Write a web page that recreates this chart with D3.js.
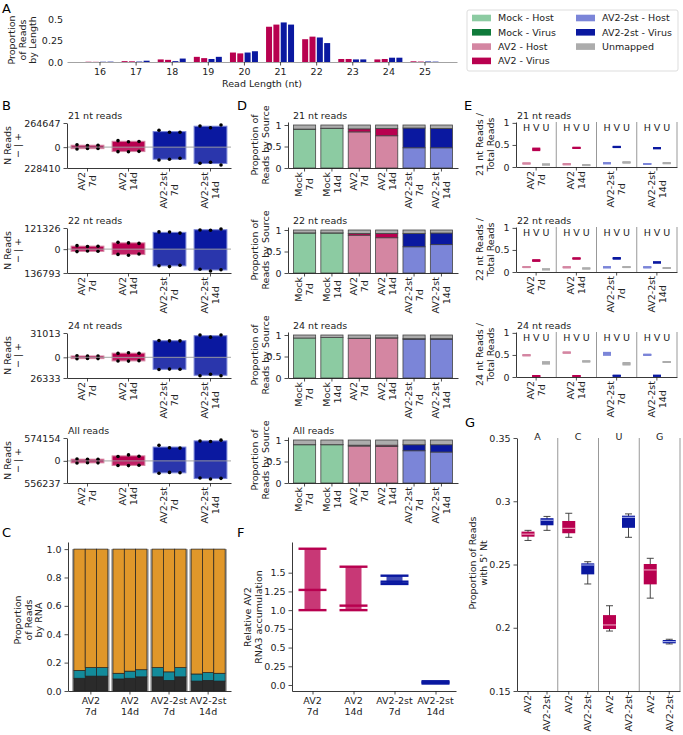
<!DOCTYPE html>
<html>
<head>
<meta charset="utf-8">
<title>AV2 small RNA reads</title>
<style>
  body { margin: 0; background: #fff; }
  svg text { font-family: "DejaVu Sans", sans-serif; fill: #222; }
  .tick text, .lbl { font-size: 9.5px; }
  .panel { font-size: 13px; fill: #000; }
</style>
</head>
<body>
<svg id="fig" width="683" height="735"></svg>
<script src="https://cdn.jsdelivr.net/npm/d3@7"></script>
<script>
// ---- data ----
var lengths = [16, 17, 18, 19, 20, 21, 22, 23, 24, 25];
var lengthSamples = ['AV2 7d', 'AV2 14d', 'AV2-2st 7d', 'AV2-2st 14d'];
var lenAV2_7d    = [0.003, 0.010, 0.030, 0.060, 0.110, 0.410, 0.265, 0.035, 0.030, 0.008];
var lenAV2_14d   = [0.002, 0.008, 0.025, 0.045, 0.100, 0.435, 0.295, 0.035, 0.035, 0.005];
var lenAV2st_7d  = [0.003, 0.005, 0.010, 0.035, 0.110, 0.460, 0.285, 0.030, 0.050, 0.006];
var lenAV2st_14d = [0.004, 0.015, 0.040, 0.060, 0.125, 0.435, 0.220, 0.030, 0.050, 0.004];

var legendLabels = ['Mock - Host', 'Mock - Virus', 'AV2 - Host', 'AV2 - Virus',
                    'AV2-2st - Host', 'AV2-2st - Virus', 'Unmapped'];

var readClasses = ['21 nt reads', '22 nt reads', '24 nt reads', 'All reads'];
var virusSamples = ['AV2\n7d', 'AV2\n14d', 'AV2-2st\n7d', 'AV2-2st\n14d'];

// B: N reads, + strand and - strand, three replicates
var nReadsMax = [264647, 121326, 31013, 574154];
var nReadsMin = [228410, 136793, 26333, 556237];
var plusReads = [
  [[25000, 18000, 20000], [71000, 60000, 62000], [185000, 163000, 163000], [232000, 213000, 243000]],
  [[20000, 15000, 17000], [39000, 36000, 33000], [99000, 98000, 92000], [110000, 108000, 116000]],
  [[2000, 1500, 1700], [5000, 5800, 5200], [21500, 21000, 21000], [28400, 25700, 28400]],
  [[45000, 40000, 42000], [110000, 150000, 115000], [390000, 330000, 320000], [500000, 485000, 520000]]
];
var minusReads = [
  [[20000, 14000, 15000], [49000, 50000, 46000], [141000, 133000, 122000], [177000, 166000, 195000]],
  [[14000, 11000, 12000], [30000, 35000, 28000], [95000, 100000, 92000], [115000, 125000, 118000]],
  [[1800, 1500, 1600], [4600, 4800, 4200], [15500, 15000, 15200], [23500, 21500, 23500]],
  [[55000, 45000, 50000], [115000, 119000, 110000], [311000, 290000, 300000], [430000, 455000, 440000]]
];

// D: proportion of reads by source
var sourceSamples = ['Mock\n7d', 'Mock\n14d', 'AV2\n7d', 'AV2\n14d', 'AV2-2st\n7d', 'AV2-2st\n14d'];
var hostFrac = [
  [0.90, 0.92, 0.84, 0.75, 0.47, 0.47],
  [0.93, 0.93, 0.88, 0.82, 0.61, 0.66],
  [0.93, 0.94, 0.92, 0.93, 0.90, 0.90],
  [0.89, 0.89, 0.86, 0.85, 0.75, 0.72]
];
var virusFrac = [
  [0.005, 0.005, 0.07, 0.17, 0.46, 0.45],
  [0.003, 0.003, 0.04, 0.10, 0.31, 0.27],
  [0.0, 0.0, 0.005, 0.005, 0.015, 0.015],
  [0.002, 0.002, 0.02, 0.03, 0.14, 0.17]
];

// E: length class reads / total reads, per replicate
var hvuKeys = ['H', 'V', 'U'];
var eHost = [
  [[0.08, 0.08, 0.08], [0.06, 0.06, 0.07], [0.08, 0.085, 0.09], [0.07, 0.07, 0.07]],
  [[0.11, 0.11, 0.11], [0.10, 0.11, 0.11], [0.10, 0.11, 0.11], [0.10, 0.11, 0.11]],
  [[0.49, 0.49, 0.50], [0.55, 0.55, 0.56], [0.50, 0.53, 0.55], [0.50, 0.50, 0.51]]
];
var eVirus = [
  [[0.38, 0.40, 0.42], [0.43, 0.43, 0.44], [0.45, 0.45, 0.46], [0.42, 0.43, 0.43]],
  [[0.25, 0.26, 0.27], [0.30, 0.31, 0.31], [0.30, 0.31, 0.32], [0.21, 0.22, 0.22]],
  [[0.015, 0.02, 0.025], [0.02, 0.02, 0.025], [0.025, 0.03, 0.03], [0.025, 0.03, 0.03]]
];
var eUnmapped = [
  [[0.055, 0.055, 0.06], [0.04, 0.045, 0.045], [0.10, 0.10, 0.11], [0.085, 0.085, 0.09]],
  [[0.06, 0.06, 0.06], [0.08, 0.08, 0.08], [0.11, 0.11, 0.11], [0.09, 0.09, 0.09]],
  [[0.30, 0.32, 0.34], [0.35, 0.35, 0.36], [0.28, 0.30, 0.32], [0.34, 0.34, 0.34]]
];

// C: proportion of reads by RNA, three replicates per sample
var rnaDark = [[0.09, 0.105, 0.105], [0.085, 0.09, 0.10], [0.10, 0.075, 0.10], [0.07, 0.075, 0.07]];
var rnaTeal = [[0.055, 0.06, 0.06], [0.04, 0.05, 0.05], [0.065, 0.06, 0.065], [0.05, 0.055, 0.055]];

// F: relative AV2 RNA3 accumulation
var rna3Values = [[1.0, 1.27, 1.82], [1.0, 1.06, 1.58], [1.35, 1.38, 1.46], [0.02, 0.035, 0.05]];

// G: 5' nucleotide, box stats [min, q1, median, q3, max]
var nucleotides = ['A', 'C', 'U', 'G'];
var boxSamples = ['AV2', 'AV2-2st'];
var boxAV2 = [
  [0.269, 0.272, 0.274, 0.276, 0.277],
  [0.2715, 0.2747, 0.2786, 0.2844, 0.2905],
  [0.1974, 0.199, 0.2022, 0.210, 0.2174],
  [0.2234, 0.2343, 0.2457, 0.2504, 0.2549]
];
var boxAV2st = [
  [0.277, 0.281, 0.285, 0.2866, 0.288],
  [0.2346, 0.2422, 0.2496, 0.2509, 0.2522],
  [0.2715, 0.279, 0.2873, 0.2886, 0.290],
  [0.1872, 0.1877, 0.189, 0.1903, 0.1909]
];

// ---- colours ----
var col = {
  mockHost: '#8ccba2', mockVirus: '#0f7a3a',
  av2Host: '#d486a2', av2Virus: '#b8004f',
  stHost: '#7b85d8', stVirus: '#0a18a0',
  unmapped: '#acacac'
};
var legendColors = [col.mockHost, col.mockVirus, col.av2Host, col.av2Virus, col.stHost, col.stVirus, col.unmapped];
var rnaColors = { dark: '#2b2b2b', teal: '#138b9b', orange: '#e0972a' };

var svg = d3.select('#fig');

function styleAxis(g, domainColor) {
  g.attr('font-size', null).attr('font-family', null);
  g.selectAll('.domain').attr('stroke', domainColor || '#222').attr('stroke-width', 0.9);
  g.selectAll('.tick line').attr('stroke', '#222').attr('stroke-width', 0.8);
  return g;
}

// rotated (bottom-to-top) multi line tick label, its end touching y
function rotLabel(x, y, text) {
  var lines = text.split('\n');
  var t = svg.append('g').attr('transform', 'translate(' + x + ',' + y + ') rotate(-90)');
  var texts = t.selectAll('text').data(lines).enter().append('text')
    .attr('class', 'lbl')
    .attr('y', function(d, i) { return (i - (lines.length - 1) / 2) * 11; })
    .attr('dy', '0.35em')
    .text(function(d) { return d; });
  var maxLen = d3.max(texts.nodes(), function(n) { return n.getComputedTextLength(); });
  texts.attr('text-anchor', 'middle').attr('x', -maxLen / 2);
}

// rotated axis title, first line at x0, centred on yc
function yTitle(x0, yc, lines, lh) {
  var t = svg.append('g').attr('transform', 'translate(' + x0 + ',' + yc + ') rotate(-90)');
  t.selectAll('text').data(lines).enter().append('text')
    .attr('class', 'lbl')
    .attr('text-anchor', 'middle')
    .attr('y', function(d, i) { return i * (lh || 10.5); })
    .attr('dy', '0.35em')
    .text(function(d) { return d; });
}

function hLabel(x, y, text) {
  svg.append('text').attr('class', 'lbl').attr('text-anchor', 'middle')
    .attr('x', x).attr('y', y)
    .selectAll('tspan').data(text.split('\n')).enter().append('tspan')
    .attr('x', x).attr('dy', function(d, i) { return i ? 11 : 0; })
    .text(function(d) { return d; });
}

function panelLetter(letter, x, y) {
  svg.append('text').attr('class', 'panel').attr('x', x).attr('y', y).text(letter);
}

function sampleColors(name) {
  if (name.indexOf('Mock') === 0) return { host: col.mockHost, virus: col.mockVirus };
  if (name.indexOf('AV2-2st') === 0) return { host: col.stHost, virus: col.stVirus };
  return { host: col.av2Host, virus: col.av2Virus };
}

// ================= A =================
panelLetter('A', 2, 13);
var aX = d3.scaleLinear().domain([15.1, 25.9]).range([67, 457]);
var aY = d3.scaleLinear().domain([0, 0.5]).range([62, 19]);
var aOff = d3.scalePoint().domain(lengthSamples).range([-11, 11]);
var lengthSeries = [lenAV2_7d, lenAV2_14d, lenAV2st_7d, lenAV2st_14d];

lengthSeries.forEach(function(vals, s) {
  var c = s < 2 ? col.av2Virus : col.stVirus;
  svg.append('g').selectAll('rect').data(vals).enter().append('rect')
    .attr('x', function(d, i) { return aX(lengths[i]) + aOff(lengthSamples[s]) - 3; })
    .attr('width', 6)
    .attr('y', function(d) { return aY(d); })
    .attr('height', function(d) { return aY(0) - aY(d); })
    .attr('fill', c);
});
styleAxis(svg.append('g').attr('transform', 'translate(0,62)')
  .call(d3.axisBottom(aX).tickValues(lengths).tickSize(3.5).tickPadding(3).tickSizeOuter(0)), '#999');
var aYax = styleAxis(svg.append('g').attr('transform', 'translate(67,0)')
  .call(d3.axisLeft(aY).tickValues([0, 0.25, 0.5]).tickSize(0).tickPadding(4)
    .tickFormat(function(d) { return d === 0 ? '0.0' : String(d); })));
aYax.select('.domain').remove();
yTitle(12, 40, ['Proportion', 'of Reads', 'by Length']);
svg.append('text').attr('class', 'lbl').attr('text-anchor', 'middle')
  .attr('x', 262).attr('y', 87).text('Read Length (nt)');

// legend
var lg = svg.append('g');
lg.append('rect').attr('x', 467).attr('y', 10).attr('width', 211).attr('height', 61)
  .attr('rx', 2).attr('fill', '#fff').attr('stroke', '#ddd');
var legendItems = lg.selectAll('.legend').data(legendLabels).enter().append('g')
  .attr('class', 'legend')
  .attr('transform', function(d, i) {
    var colIdx = i < 4 ? 0 : 1, row = i < 4 ? i : i - 4;
    return 'translate(' + (472 + colIdx * 104) + ',' + (18 + row * 14.3) + ')';
  });
legendItems.append('rect').attr('x', 0).attr('y', -3.3).attr('width', 19).attr('height', 6.6)
  .attr('fill', function(d, i) { return legendColors[i]; });
legendItems.append('text').attr('class', 'lbl').attr('x', 26).attr('dy', '0.35em')
  .text(function(d) { return d; });

// ================= B =================
panelLetter('B', 2, 110);
var bX = d3.scaleBand().domain(virusSamples).range([67, 231]).paddingInner(0.2).paddingOuter(0.1);
var repOff = d3.scalePoint().domain([0, 1, 2]).range([-10.5, 10.5]);

readClasses.forEach(function(title, r) {
  var top = 123 + 105 * r, bot = 168 + 105 * r;
  var y = d3.scaleLinear().domain([-nReadsMin[r], nReadsMax[r]]).range([bot, top]);
  var g = svg.append('g');
  virusSamples.forEach(function(s, i) {
    var c = sampleColors(s);
    var pm = d3.mean(plusReads[r][i]), mm = d3.mean(minusReads[r][i]);
    var x0 = bX(s), w = bX.bandwidth(), xc = x0 + w / 2;
    g.append('rect').attr('x', x0).attr('width', w)
      .attr('y', y(pm)).attr('height', y(0) - y(pm)).attr('fill', c.virus);
    g.append('rect').attr('x', x0).attr('width', w)
      .attr('y', y(0)).attr('height', y(-mm) - y(0)).attr('fill', c.virus).attr('fill-opacity', 0.87);
    g.append('rect').attr('x', x0).attr('width', w)
      .attr('y', y(pm)).attr('height', y(-mm) - y(pm))
      .attr('fill', 'none').attr('stroke', c.host).attr('stroke-width', 1);
    g.selectAll(null).data(plusReads[r][i]).enter().append('circle')
      .attr('cx', function(d, k) { return xc + repOff(k); })
      .attr('cy', function(d) { return y(d); }).attr('r', 1.8).attr('fill', '#000');
    g.selectAll(null).data(minusReads[r][i]).enter().append('circle')
      .attr('cx', function(d, k) { return xc + repOff(k); })
      .attr('cy', function(d) { return y(-d); }).attr('r', 1.8).attr('fill', '#000');
  });
  g.append('line').attr('x1', 67).attr('x2', 231).attr('y1', y(0)).attr('y2', y(0))
    .attr('stroke', '#999').attr('stroke-opacity', 0.7).attr('stroke-width', 1.3);

  styleAxis(svg.append('g').attr('transform', 'translate(67,0)')
    .call(d3.axisLeft(y).tickValues([-nReadsMin[r], 0, nReadsMax[r]]).tickSize(3.5).tickSizeOuter(0)
      .tickFormat(function(d) { return String(Math.abs(d)); })));
  styleAxis(svg.append('g').attr('transform', 'translate(0,' + bot + ')')
    .call(d3.axisBottom(bX).tickSize(3.5).tickSizeOuter(0).tickFormat('')));
  virusSamples.forEach(function(s) { rotLabel(bX(s) + bX.bandwidth() / 2, bot + 4, s); });
  svg.append('text').attr('class', 'lbl').attr('x', 68).attr('y', top - 4).text(title);
  yTitle(8, (top + bot) / 2, ['N Reads', '\u2212 | +'], 10);
});

// ================= D =================
panelLetter('D', 237, 110);
var dX = d3.scaleBand().domain(sourceSamples).range([288, 458]).paddingInner(0.19).paddingOuter(0.2);
var stackKeys = ['host', 'virus', 'unmapped'];

readClasses.forEach(function(title, r) {
  var top = 122 + 105 * r, bot = 168 + 105 * r;
  var y = d3.scaleLinear().domain([0, 1.07]).range([bot, top]);
  var table = sourceSamples.map(function(s, i) {
    return { sample: s, host: hostFrac[r][i], virus: virusFrac[r][i],
             unmapped: 1 - hostFrac[r][i] - virusFrac[r][i] };
  });
  var series = d3.stack().keys(stackKeys)(table);
  series.forEach(function(layer) {
    svg.append('g').selectAll('rect').data(layer).enter().append('rect')
      .attr('x', function(d) { return dX(d.data.sample); })
      .attr('width', dX.bandwidth())
      .attr('y', function(d) { return y(d[1]); })
      .attr('height', function(d) { return y(d[0]) - y(d[1]); })
      .attr('fill', function(d) {
        if (layer.key === 'unmapped') return col.unmapped;
        return sampleColors(d.data.sample)[layer.key];
      })
      .attr('stroke', '#444').attr('stroke-width', 0.8);
  });
  styleAxis(svg.append('g').attr('transform', 'translate(288,0)')
    .call(d3.axisLeft(y).tickValues([0, 0.5, 1]).tickSize(3.5).tickSizeOuter(0)
      .tickFormat(function(d) { return String(d); })));
  styleAxis(svg.append('g').attr('transform', 'translate(0,' + bot + ')')
    .call(d3.axisBottom(dX).tickSize(3.5).tickSizeOuter(0).tickFormat('')));
  sourceSamples.forEach(function(s) { rotLabel(dX(s) + dX.bandwidth() / 2, bot + 4, s); });
  svg.append('text').attr('class', 'lbl').attr('x', 293).attr('y', top - 3).text(title);
  yTitle(255, (top + bot) / 2, ['Proportion of', 'Reads by Source']);
});

// ================= E =================
panelLetter('E', 464, 110);
var eFacet = d3.scaleBand().domain(virusSamples).range([516, 677]);
var eIn = d3.scalePoint().domain(hvuKeys).range([10.5, 30]);

readClasses.slice(0, 3).forEach(function(title, r) {
  var top = 122 + 105 * r, bot = 167 + 105 * r;
  var y = d3.scaleLinear().domain([0, 1.02]).range([bot, top]);
  var g = svg.append('g');
  virusSamples.forEach(function(s, i) {
    var c = sampleColors(s);
    var f0 = eFacet(s);
    var groups = [
      { key: 'H', vals: eHost[r][i], color: c.host },
      { key: 'V', vals: eVirus[r][i], color: c.virus },
      { key: 'U', vals: eUnmapped[r][i], color: col.unmapped }
    ];
    groups.forEach(function(gr) {
      var xc = f0 + eIn(gr.key);
      g.selectAll(null).data(gr.vals).enter().append('line')
        .attr('x1', xc - 4).attr('x2', xc + 4)
        .attr('y1', function(d) { return y(d); }).attr('y2', function(d) { return y(d); })
        .attr('stroke', gr.color).attr('stroke-width', 1.8);
      g.append('text').attr('class', 'lbl').attr('text-anchor', 'middle')
        .attr('x', xc).attr('y', top + 9).text(gr.key);
    });
    g.append('line').attr('x1', f0 + eFacet.bandwidth()).attr('x2', f0 + eFacet.bandwidth())
      .attr('y1', top).attr('y2', bot).attr('stroke', '#999').attr('stroke-width', 1);
  });
  styleAxis(svg.append('g').attr('transform', 'translate(516,0)')
    .call(d3.axisLeft(y).tickValues([0, 0.5, 1]).tickSize(3.5).tickSizeOuter(0)
      .tickFormat(function(d) { return String(d); })));
  styleAxis(svg.append('g').attr('transform', 'translate(0,' + bot + ')')
    .call(d3.axisBottom(eFacet).tickSize(3.5).tickSizeOuter(0).tickFormat('')));
  virusSamples.forEach(function(s) { rotLabel(eFacet(s) + eFacet.bandwidth() / 2, bot + 4, s); });
  svg.append('text').attr('class', 'lbl').attr('x', 517).attr('y', top - 3).text(title);
  var nt = title.split(' ')[0];
  yTitle(480, (top + bot) / 2, [nt + ' nt Reads /', 'Total Reads']);
});

// ================= C =================
panelLetter('C', 2, 537);
var cX = d3.scaleBand().domain(virusSamples).range([68, 231]).paddingInner(0.13).paddingOuter(0.15);
var cRep = d3.scaleBand().domain([0, 1, 2]).range([0, cX.bandwidth()]);
var cY = d3.scaleLinear().domain([0, 1.05]).range([691, 542]);
var rnaTable = [];
virusSamples.forEach(function(s, i) {
  [0, 1, 2].forEach(function(k) {
    rnaTable.push({ sample: s, rep: k, dark: rnaDark[i][k], teal: rnaTeal[i][k],
                    orange: 1 - rnaDark[i][k] - rnaTeal[i][k] });
  });
});
// grey frame behind each group
svg.append('g').selectAll('rect').data(virusSamples).enter().append('rect')
  .attr('x', function(d) { return cX(d) - 1.8; })
  .attr('width', cX.bandwidth() + 3.6)
  .attr('y', cY(1)).attr('height', cY(0) - cY(1))
  .attr('fill', '#a8a8a8');
d3.stack().keys(['dark', 'teal', 'orange'])(rnaTable).forEach(function(layer) {
  svg.append('g').selectAll('rect').data(layer).enter().append('rect')
    .attr('x', function(d) { return cX(d.data.sample) + cRep(d.data.rep); })
    .attr('width', cRep.bandwidth())
    .attr('y', function(d) { return cY(d[1]); })
    .attr('height', function(d) { return cY(d[0]) - cY(d[1]); })
    .attr('fill', rnaColors[layer.key])
    .attr('stroke', '#222').attr('stroke-width', 0.7);
});
styleAxis(svg.append('g').attr('transform', 'translate(68,0)')
  .call(d3.axisLeft(cY).tickValues([0, 0.2, 0.4, 0.6, 0.8, 1.0]).tickSize(3.5).tickSizeOuter(0)
    .tickFormat(d3.format('.1f'))));
styleAxis(svg.append('g').attr('transform', 'translate(0,691)')
  .call(d3.axisBottom(cX).tickSize(3.5).tickSizeOuter(0).tickFormat('')));
virusSamples.forEach(function(s) { hLabel(cX(s) + cX.bandwidth() / 2, 704, s.replace('\n', '\n')); });
yTitle(18, 620, ['Proportion', 'of Reads', 'by RNA']);

// ================= F =================
panelLetter('F', 237, 537);
var fX = d3.scalePoint().domain(virusSamples).range([292, 456]).padding(0.5);
var fY = d3.scaleLinear().domain([-0.08, 1.91]).range([691, 542]);
virusSamples.forEach(function(s, i) {
  var c = sampleColors(s);
  var vals = rna3Values[i], xc = fX(s);
  var lo = d3.min(vals), hi = d3.max(vals);
  svg.append('rect').attr('x', xc - 8).attr('width', 16)
    .attr('y', fY(hi)).attr('height', fY(lo) - fY(hi))
    .attr('fill', c.virus).attr('fill-opacity', 0.78);
  svg.append('g').selectAll('line').data(vals).enter().append('line')
    .attr('x1', xc - 14).attr('x2', xc + 14)
    .attr('y1', function(d) { return fY(d); }).attr('y2', function(d) { return fY(d); })
    .attr('stroke', c.virus).attr('stroke-width', 2.4);
});
styleAxis(svg.append('g').attr('transform', 'translate(292,0)')
  .call(d3.axisLeft(fY).tickValues([0, 0.25, 0.5, 0.75, 1.0, 1.25, 1.5]).tickSize(3.5).tickSizeOuter(0)
    .tickFormat(function(d) { return d === 0 ? '0.0' : d === 1 ? '1.0' : String(d); })));
styleAxis(svg.append('g').attr('transform', 'translate(0,691)')
  .call(d3.axisBottom(fX).tickSize(3.5).tickSizeOuter(0).tickFormat('')));
virusSamples.forEach(function(s) { hLabel(fX(s), 704, s); });
yTitle(248, 617, ['Relative AV2', 'RNA3 accumulation']);

// ================= G =================
panelLetter('G', 465, 427);
var gFacet = d3.scaleBand().domain(nucleotides).range([517, 680]);
var gIn = d3.scalePoint().domain(boxSamples).range([11, 30]);
var gY = d3.scaleLinear().domain([0.15, 0.35]).range([691, 438]);
var gTicks = [];
nucleotides.forEach(function(n, j) {
  var f0 = gFacet(n);
  [boxAV2[j], boxAV2st[j]].forEach(function(st, k) {
    var s = boxSamples[k], xc = f0 + gIn(s);
    var c = k === 0 ? { fill: col.av2Virus, med: '#f2b3ca' } : { fill: col.stVirus, med: '#b8c0f3' };
    gTicks.push({ x: xc, label: s });
    var bg = svg.append('g');
    bg.append('line').attr('x1', xc).attr('x2', xc).attr('y1', gY(st[0])).attr('y2', gY(st[4]))
      .attr('stroke', '#333').attr('stroke-width', 0.9);
    [st[0], st[4]].forEach(function(v) {
      bg.append('line').attr('x1', xc - 3.5).attr('x2', xc + 3.5).attr('y1', gY(v)).attr('y2', gY(v))
        .attr('stroke', '#333').attr('stroke-width', 0.9);
    });
    bg.append('rect').attr('x', xc - 6.5).attr('width', 13)
      .attr('y', gY(st[3])).attr('height', gY(st[1]) - gY(st[3]))
      .attr('fill', c.fill);
    bg.append('line').attr('x1', xc - 6.5).attr('x2', xc + 6.5).attr('y1', gY(st[2])).attr('y2', gY(st[2]))
      .attr('stroke', c.med).attr('stroke-width', 1);
  });
  svg.append('line').attr('x1', f0 + gFacet.bandwidth()).attr('x2', f0 + gFacet.bandwidth())
    .attr('y1', 438).attr('y2', 691).attr('stroke', '#999').attr('stroke-width', 1);
  svg.append('text').attr('class', 'lbl').attr('text-anchor', 'middle')
    .attr('x', f0 + gFacet.bandwidth() / 2).attr('y', 440).text(n);
});
styleAxis(svg.append('g').attr('transform', 'translate(517,0)')
  .call(d3.axisLeft(gY).tickValues([0.15, 0.2, 0.25, 0.3, 0.35]).tickSize(3.5).tickSizeOuter(0)
    .tickFormat(function(d) { return String(d); })));
styleAxis(svg.append('g').attr('transform', 'translate(0,691)')
  .call(d3.axisBottom(gFacet).tickSize(0).tickSizeOuter(0).tickFormat('')));
svg.append('g').selectAll('line').data(gTicks).enter().append('line')
  .attr('x1', function(d) { return d.x; }).attr('x2', function(d) { return d.x; })
  .attr('y1', 691).attr('y2', 694.5).attr('stroke', '#222').attr('stroke-width', 0.8);
gTicks.forEach(function(t) { rotLabel(t.x, 695, t.label); });
yTitle(473, 563, ['Proportion of Reads', "with 5' Nt"]);
</script>
</body>
</html>
